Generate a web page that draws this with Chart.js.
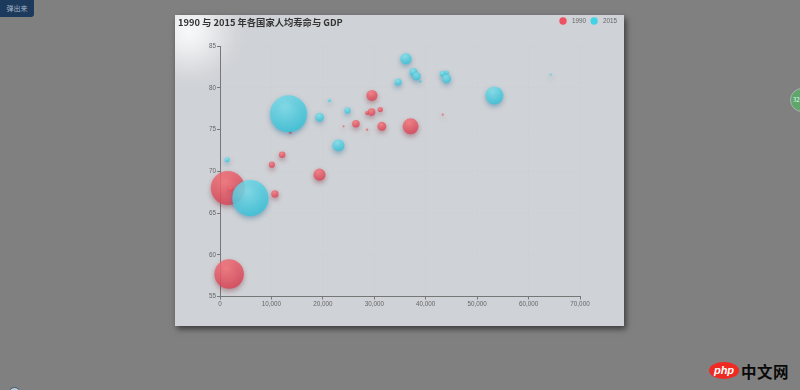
<!DOCTYPE html>
<html><head><meta charset="utf-8">
<script src="https://cdn.jsdelivr.net/npm/chart.js@4"></script>
<style>
html,body{margin:0;padding:0;width:800px;height:390px;overflow:hidden;background:#808080;font-family:"Noto Sans CJK SC","Noto Sans",sans-serif}
#panel{position:absolute;left:175px;top:15px;width:449px;height:311px;box-shadow:2px 3px 6px rgba(0,0,0,.55);
background:radial-gradient(circle 58px at 14px 16px,#f8f9fa 0%,#eef0f2 25%,#dfe1e4 55%,#d3d5d9 82%,#cfd2d6 100%),#cfd2d6;background-color:#cfd2d6}
canvas{display:block;filter:blur(.3px)}
.o{position:absolute}
#btn{left:0;top:0;width:34px;height:17px;background:#1b3a5c;border-radius:0 0 3px 0;color:#a9b6c4;font-size:7px;line-height:17px;text-align:center}
#green{left:790px;top:88px;width:22px;height:22px;border-radius:50%;background:#5fa56c;border:1.5px solid #a9b5ab;color:#dfe;font-size:6px;line-height:22px;text-indent:2px}
#ball{left:8px;top:387px;width:11px;height:11px;border-radius:50%;background:#b9cbd8;border:1px solid #45586a}
#php{left:709px;top:362px;width:30px;height:17px;border-radius:50%;background:#ee2a22;color:#fff;font:italic bold 11px/16px "Liberation Sans",sans-serif;text-align:center}
#cn{left:741px;top:360px;color:#0a0a0a;font-size:15.5px;font-weight:700;line-height:22px;letter-spacing:.5px}
</style></head><body>
<div id="panel"><canvas id="c" width="449" height="311"></canvas></div>
<div class="o" id="btn">弹出来</div>
<div class="o" id="green">32%</div>
<div class="o" id="ball"></div>
<div class="o" id="php">php</div>
<div class="o" id="cn">中文网</div>
<script>
const titleText = '1990 与 2015 年各国家人均寿命与 GDP';
const seriesNames = ['1990', '2015'];
const xTicks = [0,10000,20000,30000,40000,50000,60000,70000];
const yTicks = [55,60,65,70,75,80,85];

const gdp1990 = [28604,31163,1516,13670,28599,29476,31476,28666,1777,29550,2076,12087,24021,43296,10088,19349,10670,26424,37062];
const life1990 = [77,77.4,68,74.7,75,77.1,75.4,78.1,57.7,79.1,67.9,72,75.4,76.8,70.8,69.6,67.3,75.7,75.4];
const pop1990 = [17096869,27662440,1154605773,10582082,4986705,56943299,78958237,254830,870601776,122249285,20194354,42972254,3397534,4240375,38195258,147568552,53994605,57110117,252847810];

const gdp2015 = [44056,43294,13334,21291,38923,37599,44053,42182,5903,36162,1390,34644,34186,64304,24787,23038,19360,38225,53354];
const life2015 = [81.8,81.7,76.9,78.5,80.8,81.9,81.1,82.8,66.8,83.5,71.4,80.7,80.6,81.6,77.3,73.13,76.5,81.4,79.1];
const pop2015 = [23968973,35939927,1376048943,11389562,5503457,64395345,80688545,329425,1311050527,126573481,25155317,50293439,4528526,5210967,38611794,143456918,78665830,64715810,321773631];

const points = (g,l,p) => g.map((v,i)=>({x:v,y:l[i],r:Math.sqrt(p[i])/2000}));

function fill(inner,outer,solid){
  return ctx=>{
    const pt = ctx.parsed;
    if(!pt || ctx.type!=='data') return solid;
    const ch = ctx.chart, R = Math.max(ctx.raw.r,.1);
    const x = ch.scales.x.getPixelForValue(pt.x), y = ch.scales.y.getPixelForValue(pt.y);
    if(!Number.isFinite(x) || !Number.isFinite(y)) return solid;
    const gx = x-.2*R, gy = y-.4*R;
    const g = ch.ctx.createRadialGradient(gx,gy,0,gx,gy,2*R);
    g.addColorStop(0,inner); g.addColorStop(1,outer);
    return g;
  };
}
const legendColors = ['#ec5263','#43d3e6'];
const shadows = ['rgba(120,36,50,.5)','rgba(25,100,150,.5)'];
const shadowPlugin = {
  id:'shadow',
  beforeDatasetDraw(ch,args){const c=ch.ctx;c.save();c.shadowColor=shadows[args.index];c.shadowBlur=5;c.shadowOffsetY=2.5;},
  afterDatasetDraw(ch){ch.ctx.restore();}
};
const placePlugin = {
  id:'place',
  afterLayout(ch){
    const t=ch.titleBlock, l=ch.legend;
    t.left=3; t.right=300; t.top=2.5; t.bottom=12;
    const h=l.bottom-l.top; l.top=-2.75; l.bottom=-2.75+h; l.left=379.8; l.right=449;
  }
};
const tickFont = {family:'"Liberation Sans",sans-serif',size:6.3};
const gridColor = 'rgba(196,200,205,.55)';
new Chart(document.getElementById('c'),{
  type:'bubble',
  data:{datasets:[
    {label:seriesNames[0],order:1,clip:false,data:points(gdp1990,life1990,pop1990),borderWidth:0,hoverBorderWidth:0,
     backgroundColor:fill('rgba(251,118,123,.8)','rgba(204,46,72,.8)',legendColors[0])},
    {label:seriesNames[1],order:0,clip:false,data:points(gdp2015,life2015,pop2015),borderWidth:0,hoverBorderWidth:0,
     backgroundColor:fill('rgba(129,227,238,.8)','rgba(25,183,207,.8)',legendColors[1])}
  ]},
  options:{
    responsive:false,animation:false,
    layout:{padding:{left:0,right:44,top:0,bottom:0}},
    plugins:{
      tooltip:{enabled:false},
      title:{display:true,text:titleText,align:'start',color:'#333',padding:0,
        font:{family:'"Noto Sans CJK SC"',size:9.3,weight:'bold',lineHeight:1}},
      legend:{position:'top',align:'start',
        labels:{usePointStyle:true,pointStyle:'circle',boxWidth:5.2,boxHeight:5.2,padding:5.6,color:'#666',font:tickFont,
          sort:(a,b)=>a.datasetIndex-b.datasetIndex,
          generateLabels(ch){
            return Chart.defaults.plugins.legend.labels.generateLabels(ch).map(it=>{
              it.fillStyle=legendColors[it.datasetIndex];
              it.lineWidth=0;
              it.text='\u2002'+it.text;
              return it;
            });
          }}}
    },
    scales:{
      x:{type:'linear',min:0,max:70000,afterBuildTicks:s=>{s.ticks=xTicks.map(v=>({value:v}));},
        afterFit:s=>{s.height=29.5;},
        border:{display:true,color:'#777',width:1,dash:[1,3]},
        grid:{color:gridColor,tickLength:3,tickColor:'#777',tickBorderDash:[]},
        ticks:{color:'#666',padding:1,maxRotation:0,autoSkip:false,font:tickFont,
          callback:v=>v.toLocaleString('en-US')}},
      y:{type:'linear',min:55,max:85,afterBuildTicks:s=>{s.ticks=yTicks.map(v=>({value:v}));},
        afterFit:s=>{s.width=45;},
        border:{display:true,color:'#777',width:1,dash:[1,3]},
        grid:{color:gridColor,tickLength:3,tickColor:'#777',tickBorderDash:[]},
        ticks:{color:'#666',padding:1,autoSkip:false,font:tickFont}}
    }
  },
  plugins:[shadowPlugin,placePlugin]
});
</script>
</body></html>
